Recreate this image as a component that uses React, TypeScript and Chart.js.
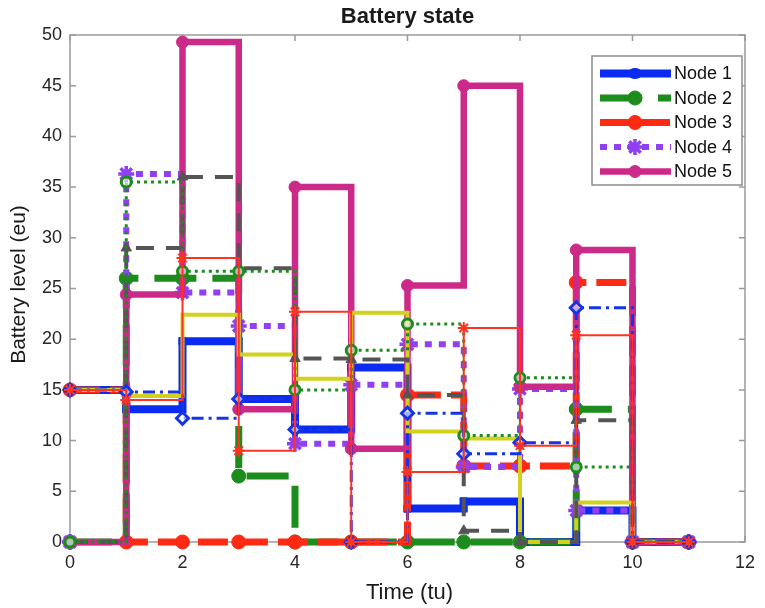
import React, { useEffect, useRef } from 'react';
import { Chart, registerables } from 'chart.js';

Chart.register(...registerables);

const FONT = '"Liberation Sans", Arial, Helvetica, sans-serif';

const TIME = [0, 1, 2, 3, 4, 5, 6, 7, 8, 9, 10, 11];
const X_TICKS = [0, 2, 4, 6, 8, 10, 12];
const Y_TICKS = [0, 5, 10, 15, 20, 25, 30, 35, 40, 45, 50];

const NODE1 = [15, 13.1, 19.8, 14.1, 11.1, 17.2, 3.3, 4.0, 0, 3.1, 0, 0];
const NODE2 = [0, 26, 26, 6.5, 0, 0, 0, 0, 0, 13.1, 0, 0];
const NODE3 = [15, 0, 0, 0, 0, 0, 14.5, 7.5, 7.5, 25.6, 0, 0];
const NODE4 = [0, 36.3, 24.6, 21.3, 9.7, 15.5, 19.5, 7.4, 15.1, 3.1, 0, 0];
const NODE5 = [0, 24.4, 49.3, 13.1, 35, 9.2, 25.3, 45, 15.3, 28.8, 0, 0];
const AUX_GREY = [0, 29, 36, 27, 18.1, 18, 14.5, 1.1, 0, 12, 0, 0];
const AUX_GREEN = [0, 35.5, 26.7, 26.7, 15, 18.9, 21.5, 10.5, 16.2, 7.4, 0, 0];
const AUX_YELLOW = [15, 14.4, 22.4, 18.5, 16.1, 22.6, 10.9, 10.2, 0, 3.9, 0, 0];
const AUX_RED = [15, 14, 28, 9, 22.7, 0, 6.9, 21.1, 9.5, 20.4, 0, 0];
const AUX_BLUE = [15, 14.8, 12.2, 14.1, 11.1, 0, 12.7, 8.7, 9.8, 23.1, 0, 0];

const LEGEND_NAMES = ['Node 1', 'Node 2', 'Node 3', 'Node 4', 'Node 5'];

const pts = (vals: number[]) => TIME.map((t, i) => ({ x: t, y: vals[i] }));

type Spec = {
  key: string;
  label: string;
  data: number[];
  color: string;
  width: number;
  dash: number[];
  marker: string | false;
  radius: number;
  fill: string;
  markerBorder: number;
};

// Drawn bottom -> top
const SPECS: Spec[] = [
  { key: 'n1', label: 'Node 1', data: NODE1, color: '#0b2cf0', width: 8, dash: [], marker: 'rect', radius: 5, fill: '#0b2cf0', markerBorder: 1 },
  { key: 'n2', label: 'Node 2', data: NODE2, color: '#1c8c1c', width: 7, dash: [42, 16], marker: 'circle', radius: 7, fill: '#1c8c1c', markerBorder: 1 },
  { key: 'n3', label: 'Node 3', data: NODE3, color: '#ff2a14', width: 7, dash: [30, 10], marker: 'circle', radius: 7, fill: '#ff2a14', markerBorder: 1 },
  { key: 'n4', label: 'Node 4', data: NODE4, color: '#9040f0', width: 6, dash: [7, 7], marker: 'star', radius: 8, fill: '#9040f0', markerBorder: 3.5 },
  { key: 'n5', label: 'Node 5', data: NODE5, color: '#cc2a88', width: 6.5, dash: [], marker: 'circle', radius: 6, fill: '#cc2a88', markerBorder: 1 },
  { key: 'yel', label: '', data: AUX_YELLOW, color: '#d2d21e', width: 4, dash: [], marker: false, radius: 0, fill: '#d2d21e', markerBorder: 0 },
  { key: 'gry', label: '', data: AUX_GREY, color: '#555555', width: 4, dash: [18, 12], marker: 'triangle', radius: 6, fill: '#555555', markerBorder: 1 },
  { key: 'grn', label: '', data: AUX_GREEN, color: '#1c8c1c', width: 3, dash: [3, 4], marker: 'circle', radius: 5, fill: 'rgba(255,255,255,0.6)', markerBorder: 3 },
  { key: 'blu', label: '', data: AUX_BLUE, color: '#1434e6', width: 3, dash: [12, 5, 3, 5], marker: 'rectRot', radius: 6, fill: 'rgba(255,255,255,0.6)', markerBorder: 3 },
  { key: 'red', label: '', data: AUX_RED, color: '#ff3322', width: 2, dash: [], marker: 'star', radius: 6, fill: '#ff3322', markerBorder: 2 },
];

function drawMarker(ctx: CanvasRenderingContext2D, s: Spec, x: number, y: number) {
  if (!s.marker) return;
  const r = s.radius;
  ctx.save();
  ctx.setLineDash([]);
  ctx.fillStyle = s.fill;
  ctx.strokeStyle = s.color;
  ctx.lineWidth = s.markerBorder;
  ctx.beginPath();
  if (s.marker === 'circle') {
    ctx.arc(x, y, r, 0, Math.PI * 2);
    ctx.fill();
    ctx.stroke();
  } else if (s.marker === 'rect') {
    ctx.ellipse(x, y, r + 2, r, 0, 0, Math.PI * 2);
    ctx.fill();
    ctx.stroke();
  } else if (s.marker === 'star') {
    for (let k = 0; k < 4; k++) {
      const a = (k * Math.PI) / 4;
      ctx.moveTo(x + Math.cos(a) * r, y + Math.sin(a) * r);
      ctx.lineTo(x - Math.cos(a) * r, y - Math.sin(a) * r);
    }
    ctx.stroke();
  }
  ctx.restore();
}

const framePlugin = {
  id: 'frame',
  beforeDatasetsDraw(chart: any) {
    const { ctx, chartArea: a, scales } = chart;
    ctx.save();
    ctx.strokeStyle = '#9a9a9a';
    ctx.lineWidth = 1.5;
    ctx.strokeRect(a.left, a.top, a.right - a.left, a.bottom - a.top);
    ctx.beginPath();
    const L = 6;
    X_TICKS.forEach((v) => {
      const px = scales.x.getPixelForValue(v);
      ctx.moveTo(px, a.bottom);
      ctx.lineTo(px, a.bottom - L);
      ctx.moveTo(px, a.top);
      ctx.lineTo(px, a.top + L);
    });
    Y_TICKS.forEach((v) => {
      const py = scales.y.getPixelForValue(v);
      ctx.moveTo(a.left, py);
      ctx.lineTo(a.left + L, py);
      ctx.moveTo(a.right, py);
      ctx.lineTo(a.right - L, py);
    });
    ctx.stroke();
    ctx.restore();
  },
};

const textPlugin = {
  id: 'texts',
  afterDraw(chart: any) {
    const { ctx, chartArea: a } = chart;
    const cx = (a.left + a.right) / 2;
    const cy = (a.top + a.bottom) / 2;
    ctx.save();
    ctx.fillStyle = '#1a1a1a';
    ctx.textAlign = 'center';
    ctx.textBaseline = 'middle';
    ctx.font = `bold 22px ${FONT}`;
    ctx.fillText('Battery state', cx, 17);
    ctx.font = `22px ${FONT}`;
    ctx.fillText('Time (tu)', cx + 2, 593);
    ctx.translate(19, cy - 4);
    ctx.rotate(-Math.PI / 2);
    ctx.font = `21px ${FONT}`;
    ctx.fillText('Battery level (eu)', 0, 0);
    ctx.restore();
  },
};

const legendPlugin = {
  id: 'customLegend',
  afterDatasetsDraw(chart: any) {
    const { ctx } = chart;
    const x0 = 592, y0 = 56, w = 150, h = 129;
    ctx.save();
    ctx.fillStyle = '#ffffff';
    ctx.fillRect(x0, y0, w, h);
    ctx.strokeStyle = '#8c8c8c';
    ctx.lineWidth = 1.5;
    ctx.strokeRect(x0, y0, w, h);
    LEGEND_NAMES.forEach((name, i) => {
      const s = SPECS.find((sp) => sp.label === name)!;
      const y = 73.5 + i * 24.5;
      ctx.save();
      ctx.strokeStyle = s.color;
      ctx.lineWidth = s.width;
      ctx.setLineDash(s.dash);
      ctx.beginPath();
      ctx.moveTo(600, y);
      ctx.lineTo(671, y);
      ctx.stroke();
      ctx.restore();
      drawMarker(ctx, s, 635, y);
      ctx.fillStyle = '#111';
      ctx.font = `18px ${FONT}`;
      ctx.textAlign = 'left';
      ctx.textBaseline = 'middle';
      ctx.fillText(name, 674, y + 1);
    });
    ctx.restore();
  },
};

export default function App() {
  const ref = useRef<HTMLCanvasElement | null>(null);

  useEffect(() => {
    if (!ref.current) return;
    const n = SPECS.length;
    const chart = new Chart(ref.current, {
      type: 'line',
      data: {
        datasets: SPECS.map((s, i) => ({
          label: s.label || s.key,
          data: pts(s.data),
          stepped: 'before' as const,
          borderColor: s.color,
          borderWidth: s.width,
          borderDash: s.dash,
          borderCapStyle: 'butt' as const,
          borderJoinStyle: 'miter' as const,
          fill: false,
          clip: false as any,
          order: n - i,
          pointStyle: (s.marker || 'circle') as any,
          pointRadius: s.marker ? s.radius : 0,
          pointHoverRadius: s.marker ? s.radius : 0,
          pointBackgroundColor: s.fill,
          pointBorderColor: s.color,
          pointBorderWidth: s.markerBorder,
        })),
      },
      options: {
        responsive: false,
        animation: false,
        devicePixelRatio: 1,
        layout: { padding: { top: 35, right: 13, left: 0, bottom: 0 } },
        plugins: {
          legend: { display: false },
          title: { display: false },
          tooltip: { enabled: false },
        },
        scales: {
          x: {
            type: 'linear',
            min: 0,
            max: 12,
            ticks: { stepSize: 2, padding: 10, color: '#262626', font: { size: 18, family: FONT } },
            grid: { display: false, drawTicks: false },
            border: { display: false },
            afterFit: (s: any) => { s.height = 66; },
          },
          y: {
            type: 'linear',
            min: 0,
            max: 50,
            ticks: { stepSize: 5, padding: 8, color: '#262626', font: { size: 18, family: FONT } },
            grid: { display: false, drawTicks: false },
            border: { display: false },
            afterFit: (s: any) => { s.width = 70; },
          },
        },
      },
      plugins: [framePlugin, legendPlugin, textPlugin],
    });
    return () => chart.destroy();
  }, []);

  return (
    <div style={{ position: 'fixed', left: 0, top: 0, width: 765, height: 608, background: '#fff' }}>
      <canvas ref={ref} width={765} height={608} />
    </div>
  );
}
